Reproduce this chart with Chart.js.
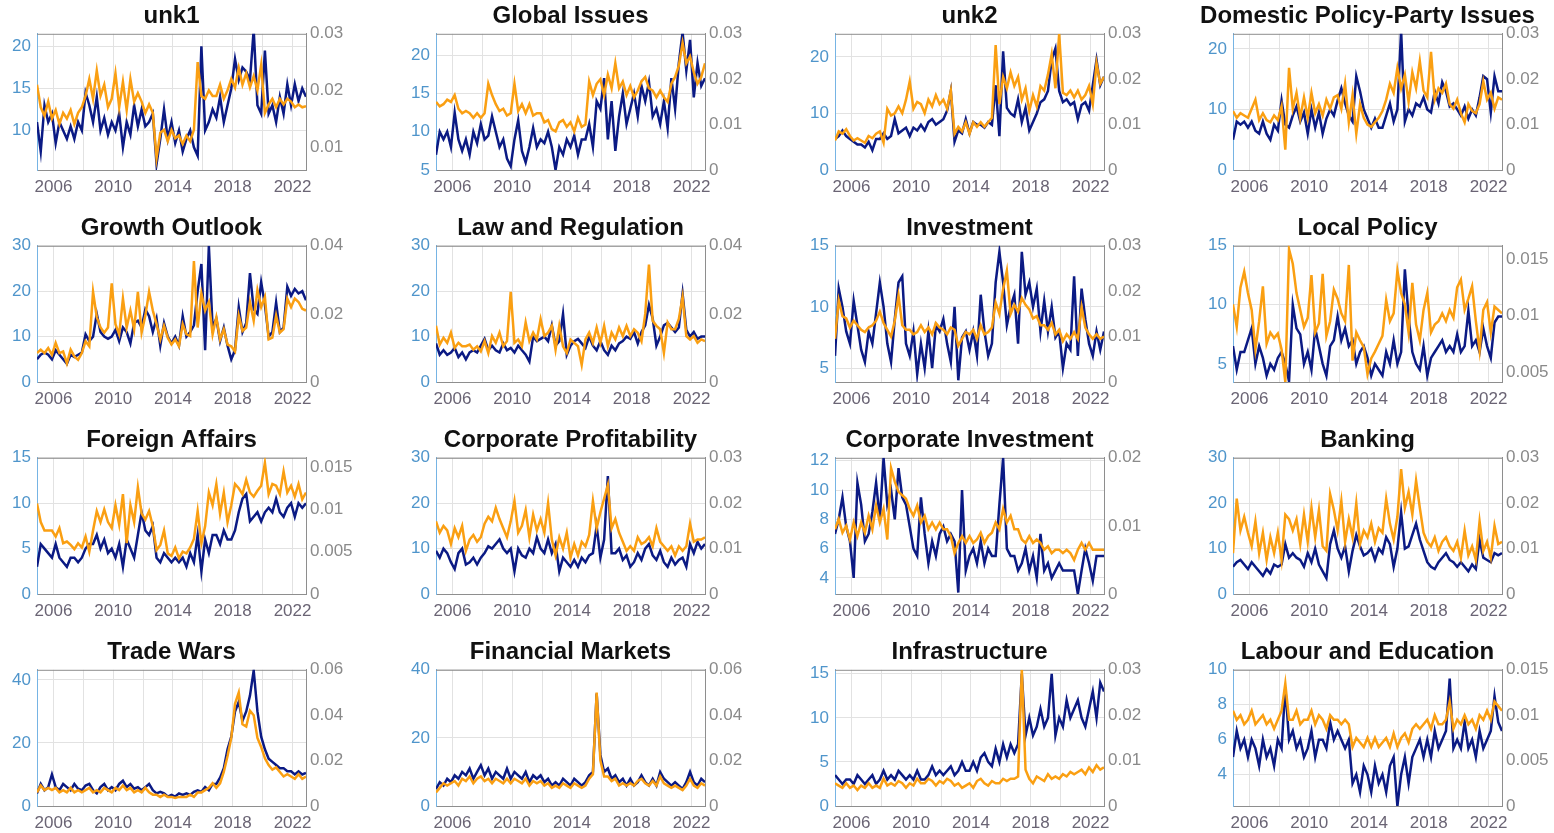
<!DOCTYPE html>
<html>
<head>
<meta charset="utf-8">
<script src="https://cdn.jsdelivr.net/npm/chart.js@4.4.0/dist/chart.umd.min.js"></script>
<style>
  body { margin: 0; background: #fff; width: 1554px; height: 833px; overflow: hidden; position: relative; }
  canvas { position: absolute; }
</style>
</head>
<body>
<script>
// Quarterly readings, 2005 to late 2022. "Left" = counts (left axis, navy), "Right" = shares (right axis, orange).
const titles = ['unk1', 'Global Issues', 'unk2', 'Domestic Policy-Party Issues',
  'Growth Outlook', 'Law and Regulation', 'Investment', 'Local Policy',
  'Foreign Affairs', 'Corporate Profitability', 'Corporate Investment', 'Banking',
  'Trade Wars', 'Financial Markets', 'Infrastructure', 'Labour and Education'];

const yearTicks = [2006, 2008, 2010, 2012, 2014, 2016, 2018, 2020, 2022];
const yearLabels = [2006, 2010, 2014, 2018, 2022];

const unk1Left = [
  11, 7.5, 13, 11, 12, 8.5, 11, 10, 9, 10.5, 9, 11, 10, 14.5, 13, 11, 14, 10, 11.5, 9.5, 11, 10, 12, 8,
  11, 9.5, 13, 10.5, 12.5, 10.5, 11, 12, 6, 9, 12.5, 9, 11, 8.5, 10, 7.5, 9, 10, 8, 7, 20, 10, 11, 12.5,
  11.5, 14, 11, 13, 15, 18.5, 16, 17.5, 17, 16, 22, 13, 12, 19.5, 12, 13, 11, 14, 12, 15.5, 13, 15.5, 13.5, 15, 14];
const unk1Right = [
  0.021, 0.017, 0.0155, 0.018, 0.015, 0.0165, 0.014, 0.016, 0.015, 0.0165, 0.014, 0.016, 0.017, 0.019, 0.022, 0.0185, 0.0235, 0.019, 0.021, 0.017, 0.0185, 0.023, 0.017, 0.0215,
  0.0165, 0.022, 0.018, 0.0195, 0.018, 0.016, 0.0175, 0.016, 0.008, 0.0125, 0.013, 0.011, 0.013, 0.0115, 0.012, 0.0105, 0.012, 0.011, 0.013, 0.025, 0.019, 0.0185, 0.02, 0.019,
  0.019, 0.021, 0.0185, 0.02, 0.022, 0.0205, 0.024, 0.021, 0.023, 0.0205, 0.0225, 0.02, 0.0245, 0.016, 0.0175, 0.0185, 0.017, 0.0185, 0.0175, 0.0185, 0.018, 0.017, 0.0175, 0.017, 0.0172];

const globalLeft = [
  7, 10, 9, 10, 8, 12.5, 9, 7.5, 9, 7, 10, 8.5, 11, 9, 9.5, 12, 10, 8, 9, 6.5, 5.5, 9, 11.5, 7.5,
  6, 8, 10.5, 8, 9, 8.5, 10, 8, 5, 8, 7, 9, 8, 9.5, 7, 9, 9, 11, 8, 14, 13, 17, 9, 14,
  7.5, 12, 15, 11, 13, 15, 12, 16, 14, 16.5, 12, 13, 11, 14, 10.5, 17, 13, 19, 23, 18, 22, 14.5, 19, 16, 17];
const globalRight = [
  0.015, 0.014, 0.0145, 0.0155, 0.015, 0.0165, 0.0135, 0.0125, 0.013, 0.0125, 0.0115, 0.0125, 0.0115, 0.0125, 0.019, 0.0165, 0.0145, 0.013, 0.0135, 0.012, 0.0125, 0.019, 0.013, 0.0145,
  0.0125, 0.0145, 0.012, 0.0125, 0.0125, 0.0105, 0.011, 0.009, 0.0085, 0.0105, 0.011, 0.0095, 0.0105, 0.0085, 0.0115, 0.0095, 0.01, 0.0195, 0.0165, 0.019, 0.02, 0.0165, 0.021, 0.018,
  0.0235, 0.018, 0.0195, 0.0165, 0.0185, 0.016, 0.0175, 0.0195, 0.0205, 0.018, 0.0175, 0.016, 0.0175, 0.016, 0.015, 0.019, 0.0205, 0.023, 0.028, 0.0235, 0.025, 0.0215, 0.019, 0.0205, 0.0235];

const unk2Left = [
  5.5, 6, 7, 6, 5.5, 5, 4.5, 4.5, 4, 5, 3.5, 5.5, 5.5, 6.5, 5.5, 6, 9, 6.5, 7, 7.5, 6, 7.5, 7, 8,
  7, 8.5, 9, 8, 8.5, 9, 10.5, 14, 5, 7, 6.5, 9, 6.5, 8.5, 8, 8, 7.5, 8.5, 8, 15, 6, 21, 11, 10,
  9.5, 12.5, 8.5, 11, 7, 8.5, 10, 12, 12.5, 14, 19.5, 21.5, 14, 12, 12.5, 11.5, 12, 9, 11.5, 12, 10.5, 15, 19.5, 15, 16.5];
const unk2Right = [
  0.0065, 0.0085, 0.008, 0.009, 0.0075, 0.0065, 0.007, 0.0065, 0.006, 0.0075, 0.007, 0.008, 0.0085, 0.006, 0.0135, 0.012, 0.0125, 0.014, 0.0125, 0.0155, 0.0195, 0.0135, 0.015, 0.0145,
  0.0125, 0.0155, 0.014, 0.0165, 0.0145, 0.0155, 0.0135, 0.0175, 0.008, 0.0095, 0.0085, 0.0105, 0.008, 0.0105, 0.0095, 0.0105, 0.0095, 0.0105, 0.0115, 0.0275, 0.0145, 0.0205, 0.018, 0.0215,
  0.0185, 0.0205, 0.0155, 0.018, 0.013, 0.0165, 0.014, 0.0185, 0.0175, 0.021, 0.0255, 0.018, 0.03, 0.017, 0.0165, 0.0175, 0.016, 0.0175, 0.0155, 0.0165, 0.0185, 0.0145, 0.0235, 0.019, 0.0205];

const domesticLeft = [
  5, 8, 7.5, 8, 7, 8, 6.5, 6, 8, 6, 5, 7.5, 6.5, 11.5, 7.5, 7, 9, 10.5, 8, 9.5, 6, 10, 7, 9.5,
  6, 8.5, 10, 9, 11.5, 13.5, 11, 9, 8, 15.5, 13, 10, 8.5, 7, 8.5, 7, 7, 9, 11, 8, 10, 23, 8, 10,
  9, 11, 10.5, 12, 10, 9.5, 13, 11, 14.5, 13, 10.5, 11, 10, 9, 10.5, 8.5, 10, 9, 12, 15.5, 15, 9.5, 15.5, 13, 13];
const domesticRight = [
  0.013, 0.0115, 0.0125, 0.012, 0.0115, 0.0135, 0.0155, 0.011, 0.0125, 0.011, 0.0105, 0.012, 0.011, 0.014, 0.0045, 0.0225, 0.0135, 0.017, 0.0115, 0.016, 0.0115, 0.017, 0.0125, 0.0145,
  0.012, 0.0155, 0.0135, 0.016, 0.0165, 0.0135, 0.019, 0.0105, 0.0165, 0.008, 0.0145, 0.0115, 0.01, 0.0095, 0.0105, 0.0115, 0.013, 0.0155, 0.019, 0.017, 0.0225, 0.018, 0.021, 0.015,
  0.0215, 0.018, 0.024, 0.0175, 0.016, 0.026, 0.0155, 0.018, 0.017, 0.019, 0.0145, 0.0135, 0.0155, 0.0125, 0.0105, 0.0145, 0.013, 0.0125, 0.0145, 0.0195, 0.0155, 0.017, 0.0135, 0.016, 0.0155];

const growthLeft = [
  5, 6, 6.5, 6, 5, 7, 6, 5, 4, 6, 5.5, 6, 6.5, 10.5, 9, 10, 15, 11, 10, 9.5, 10, 11.5, 9, 12,
  11, 8.5, 13, 13.5, 12, 16, 14.5, 11, 14, 8, 13, 10, 8.5, 10, 8, 14.5, 10, 11, 12.5, 20, 26, 7, 30, 12,
  14, 9, 12, 8, 5, 7, 16.5, 11, 13, 24, 16, 15, 22, 17, 10, 11, 17.5, 11, 12, 21, 19, 20.5, 19.5, 20, 18];
const growthRight = [
  0.0085, 0.0095, 0.0085, 0.01, 0.008, 0.0115, 0.0085, 0.009, 0.0055, 0.0095, 0.0075, 0.0065, 0.0085, 0.012, 0.0105, 0.0265, 0.019, 0.016, 0.0145, 0.016, 0.029, 0.017, 0.014, 0.0245,
  0.016, 0.021, 0.0155, 0.0265, 0.0145, 0.0195, 0.0265, 0.021, 0.017, 0.0125, 0.0165, 0.013, 0.011, 0.0125, 0.0105, 0.017, 0.014, 0.0135, 0.0355, 0.016, 0.026, 0.021, 0.0235, 0.014,
  0.019, 0.0125, 0.0155, 0.011, 0.0105, 0.009, 0.0195, 0.015, 0.016, 0.0235, 0.018, 0.027, 0.022, 0.025, 0.0125, 0.013, 0.0195, 0.0145, 0.0155, 0.0245, 0.022, 0.0245, 0.0235, 0.0215, 0.021];

const lawLeft = [
  8.5, 6, 7, 6, 6.5, 7.5, 5.5, 6.5, 5, 6.5, 7, 6.5, 8, 9.5, 7, 8, 7, 6.5, 8.5, 7, 7.5, 6.5, 8, 7,
  6, 4.5, 10, 9, 9.5, 10, 9, 12.5, 8, 9, 15, 6, 8, 9, 9.5, 8.5, 7.5, 10, 8, 7, 9, 7, 6, 8,
  7, 8.5, 9, 10, 9.5, 11, 8.5, 11, 12.5, 17, 14, 8, 10, 12.5, 13, 12, 11, 12, 19.5, 11.5, 10, 11, 9.5, 10, 10];
const lawRight = [
  0.0165, 0.011, 0.013, 0.0115, 0.0145, 0.01, 0.0115, 0.0105, 0.0105, 0.011, 0.0095, 0.0105, 0.009, 0.012, 0.0085, 0.0135, 0.0115, 0.0145, 0.0105, 0.012, 0.0265, 0.0115, 0.0125, 0.0105,
  0.0175, 0.012, 0.0145, 0.0125, 0.0185, 0.0135, 0.0145, 0.0165, 0.0095, 0.0165, 0.0105, 0.0085, 0.0125, 0.0115, 0.0105, 0.005, 0.0125, 0.0145, 0.0115, 0.016, 0.0115, 0.0165, 0.0105, 0.0145,
  0.0125, 0.016, 0.0135, 0.0165, 0.0135, 0.0155, 0.0145, 0.012, 0.02, 0.0345, 0.018, 0.0165, 0.0155, 0.0085, 0.0175, 0.0155, 0.0155, 0.0185, 0.025, 0.0135, 0.0125, 0.0135, 0.0115, 0.0125, 0.012];

const investLeft = [
  6, 11.5, 10, 8, 7, 10.5, 8.5, 6.5, 5.5, 8, 7, 9.5, 12, 10, 7, 5.5, 9, 12, 12.5, 7, 6, 8, 4.5, 7,
  5, 8, 5, 8.5, 8, 9, 7, 5.5, 10, 4, 7.5, 8, 6.5, 8, 6, 11, 8, 6, 7, 12, 14.5, 12, 8.5, 10,
  11, 7, 14.5, 11, 12, 10, 11.5, 8, 10.5, 8, 10, 7.5, 8, 5, 7, 6.5, 12.5, 6, 11.5, 9, 7, 6, 8, 6.5, 8];
const investRight = [
  0.0095, 0.018, 0.0145, 0.014, 0.012, 0.0135, 0.0125, 0.0115, 0.011, 0.012, 0.0125, 0.0135, 0.0155, 0.013, 0.0115, 0.01, 0.0135, 0.019, 0.0125, 0.0115, 0.0115, 0.0105, 0.011, 0.0125,
  0.011, 0.012, 0.0105, 0.013, 0.012, 0.0115, 0.0105, 0.012, 0.0115, 0.008, 0.0095, 0.011, 0.0105, 0.0115, 0.0095, 0.0125, 0.0105, 0.011, 0.012, 0.0175, 0.015, 0.0205, 0.0245, 0.015,
  0.017, 0.0155, 0.0185, 0.017, 0.016, 0.014, 0.0145, 0.0125, 0.0125, 0.0115, 0.013, 0.0105, 0.0115, 0.009, 0.0105, 0.0095, 0.011, 0.0095, 0.0165, 0.012, 0.0105, 0.0095, 0.0105, 0.0095, 0.01];

const localLeft = [
  6.5, 4.5, 6, 6, 7, 8, 5, 6.5, 5.5, 4, 5, 4.5, 5.5, 6, 5, 3.5, 10, 8, 7.5, 5, 6, 4.5, 8, 6.5,
  5, 4, 6.5, 7, 9, 7, 8, 6.5, 7, 5, 6, 6.5, 5.5, 4, 5, 4.5, 4, 6, 5, 7, 5, 6, 13, 9,
  6, 5, 4.5, 6.5, 4, 5.5, 6, 6.5, 7, 6, 6.5, 6, 7.5, 6, 6.5, 9.5, 6.5, 7, 6, 8, 6.5, 5.5, 8.5, 9, 9];
const localRight = [
  0.011, 0.009, 0.0125, 0.0139, 0.012, 0.0105, 0.007, 0.0095, 0.0126, 0.0075, 0.0085, 0.008, 0.0084, 0.007, 0.0041, 0.0159, 0.0146, 0.012, 0.0105, 0.009, 0.0098, 0.0136, 0.0085, 0.0093,
  0.0137, 0.0082, 0.0095, 0.0123, 0.0115, 0.0102, 0.0095, 0.0145, 0.006, 0.0085, 0.0078, 0.0072, 0.0048, 0.0062, 0.0068, 0.0075, 0.0082, 0.0114, 0.0095, 0.0102, 0.014, 0.012, 0.011, 0.0085,
  0.0129, 0.0092, 0.0078, 0.0105, 0.012, 0.0085, 0.0092, 0.0095, 0.0102, 0.0095, 0.0105, 0.0098, 0.0125, 0.0132, 0.0105, 0.0115, 0.0126, 0.0095, 0.0069, 0.0105, 0.0112, 0.0085, 0.0108, 0.0105, 0.0102];

const foreignLeft = [
  3, 5.5, 5, 4.5, 4, 5.5, 4, 3.5, 3, 4, 4, 3.5, 4, 5, 5.5, 5.5, 6.5, 5, 6, 4.5, 5, 4, 5.5, 3,
  6, 5, 4, 6.5, 9, 7, 6.5, 7.5, 4, 3.5, 4.5, 4, 3.5, 4, 3.5, 4, 3, 4.5, 3.5, 6.5, 2.5, 6, 4.5, 6.5,
  6.5, 5.5, 7, 6, 6, 7, 9, 10.5, 11, 8, 8.5, 9, 8, 9, 9.5, 9, 10.5, 9, 8.5, 9.5, 10, 8.5, 10, 9.5, 10];
const foreignRight = [
  0.0107, 0.0085, 0.0075, 0.0075, 0.0075, 0.0068, 0.0078, 0.006, 0.0062, 0.0058, 0.0053, 0.006, 0.0055, 0.0068, 0.005, 0.0075, 0.0098, 0.0085, 0.01, 0.0085, 0.0078, 0.0105, 0.0082, 0.0118,
  0.006, 0.0105, 0.0085, 0.0126, 0.0095, 0.0088, 0.0098, 0.008, 0.0052, 0.0058, 0.0075, 0.0048, 0.0045, 0.0055, 0.0042, 0.005, 0.0048, 0.0055, 0.0065, 0.0098, 0.006, 0.008, 0.012, 0.0105,
  0.013, 0.0095, 0.012, 0.0085, 0.0105, 0.013, 0.0125, 0.0118, 0.0135, 0.012, 0.0115, 0.0122, 0.0128, 0.0155, 0.0118, 0.013, 0.0128, 0.0118, 0.0145, 0.012, 0.0128, 0.0115, 0.013, 0.0112, 0.012];

const profitLeft = [
  9.5, 8, 10, 9, 7, 5.5, 9, 10, 6.5, 7, 8, 6.5, 8, 9, 10.5, 10, 11, 12, 10, 9, 10, 5, 10, 8.5,
  8, 10, 9, 12.5, 10, 9, 12, 9, 11, 5, 8, 7, 6, 7.5, 6, 8, 7, 8.5, 9, 15, 8, 12, 26, 9,
  9, 10, 7.5, 8.5, 6, 7, 9, 7.5, 10, 11, 8.5, 7.5, 9.5, 7, 6, 8, 6.5, 7.5, 8, 6, 11, 9, 11.5, 10, 11];
const profitRight = [
  0.016, 0.0135, 0.015, 0.014, 0.011, 0.0145, 0.0125, 0.015, 0.0095, 0.012, 0.013, 0.0115, 0.0125, 0.0155, 0.017, 0.016, 0.019, 0.0165, 0.0145, 0.0125, 0.016, 0.0205, 0.0135, 0.015,
  0.0185, 0.0125, 0.0175, 0.014, 0.0165, 0.0135, 0.02, 0.012, 0.0085, 0.0125, 0.01, 0.0135, 0.008, 0.011, 0.0085, 0.0115, 0.0105, 0.013, 0.0205, 0.0145, 0.018, 0.021, 0.024, 0.0145,
  0.0165, 0.0135, 0.0115, 0.0095, 0.0105, 0.0095, 0.0125, 0.011, 0.0115, 0.0125, 0.0105, 0.0145, 0.0115, 0.0105, 0.0095, 0.0105, 0.0085, 0.0105, 0.0095, 0.0105, 0.0155, 0.0115, 0.012, 0.012, 0.0125];

const corpInvLeft = [
  7, 8, 9.5, 7.5, 6.5, 4, 10.5, 9, 6.5, 7, 8.5, 10.5, 8, 12.2, 9, 10, 8, 11.5, 9.5, 9, 7.5, 6, 5.5, 9.5,
  7, 5, 6.5, 5.5, 7, 7.5, 6.5, 7, 6.5, 3, 10, 4.5, 5.5, 6, 5, 6.5, 5, 6, 5.5, 5.5, 9, 12.2, 6, 5.5,
  5.5, 4.5, 5, 6, 4.5, 5.5, 4, 7, 4.5, 5, 4, 4.5, 5, 4.5, 4.5, 4.5, 4.5, 2.9, 4.5, 6, 5, 3.8, 5.5, 5.5, 5.5];
const corpInvRight = [
  0.0095, 0.011, 0.009, 0.01, 0.008, 0.0105, 0.0085, 0.0105, 0.009, 0.0115, 0.0095, 0.013, 0.0105, 0.0125, 0.008, 0.0185, 0.0165, 0.015, 0.0145, 0.014, 0.0125, 0.0115, 0.013, 0.0105,
  0.0115, 0.0095, 0.0105, 0.0095, 0.0105, 0.0095, 0.0095, 0.0085, 0.006, 0.0075, 0.0085, 0.0075, 0.0085, 0.0075, 0.008, 0.009, 0.0075, 0.0085, 0.009, 0.0105, 0.0095, 0.0125, 0.0105, 0.0115,
  0.0095, 0.0095, 0.008, 0.0075, 0.0085, 0.0075, 0.008, 0.0075, 0.0065, 0.007, 0.006, 0.0065, 0.0065, 0.006, 0.0065, 0.006, 0.005, 0.0065, 0.0075, 0.0065, 0.0075, 0.0065, 0.0065, 0.0065, 0.0065];

const bankingLeft = [
  6, 7, 7.5, 6.5, 5.5, 7, 6, 5, 4, 5.5, 4.5, 6.5, 6, 6.5, 11, 8, 9, 8, 7.5, 6, 9, 7, 10, 6.5,
  5, 3.5, 11, 14, 10, 8, 10.5, 5, 9.5, 13, 10.5, 8.5, 9, 10, 7.5, 10, 9, 12.5, 11, 6, 10, 18, 10, 10.5,
  13, 15.5, 12, 9.5, 7, 6, 5.5, 7, 8, 9, 7.5, 7, 6, 7, 6, 5, 6.5, 5.5, 12, 8, 7.5, 7, 9, 8.5, 9];
const bankingRight = [
  0.009, 0.021, 0.014, 0.017, 0.0135, 0.0105, 0.016, 0.009, 0.0135, 0.0075, 0.0125, 0.009, 0.0135, 0.0075, 0.0175, 0.0165, 0.014, 0.0165, 0.011, 0.0175, 0.0115, 0.019, 0.0125, 0.0185,
  0.0105, 0.0095, 0.022, 0.0185, 0.014, 0.0205, 0.0115, 0.0165, 0.0125, 0.02, 0.011, 0.014, 0.0125, 0.0155, 0.0115, 0.0145, 0.0135, 0.021, 0.0155, 0.012, 0.017, 0.0275, 0.019, 0.0225,
  0.0175, 0.025, 0.019, 0.0135, 0.0115, 0.0105, 0.0125, 0.0095, 0.0115, 0.0125, 0.0105, 0.0095, 0.0115, 0.008, 0.014, 0.0085, 0.0105, 0.0075, 0.016, 0.0095, 0.0115, 0.008, 0.015, 0.011, 0.0115];

const tradeLeft = [
  4, 7, 5, 6, 10, 6, 5, 7, 6, 5, 7, 5.5, 5, 6.5, 7, 5, 4, 6, 7, 5, 6, 5, 7, 8,
  6, 7, 5.5, 6, 5, 6, 7, 5, 4, 4.5, 4, 3, 3.5, 3, 4, 3.5, 4, 3.5, 4.5, 5, 4.5, 6, 5, 7,
  7, 9, 12, 18, 22, 30, 33, 27, 30, 35, 43, 30, 22, 18, 15, 14, 13, 12, 12, 11, 11, 10, 11, 10, 10.5];
const tradeRight = [
  0.006, 0.009, 0.007, 0.008, 0.007, 0.008, 0.006, 0.007, 0.006, 0.008, 0.006, 0.007, 0.006, 0.007, 0.008, 0.006, 0.007, 0.006, 0.008, 0.007, 0.006, 0.008, 0.007, 0.009,
  0.007, 0.008, 0.006, 0.007, 0.006, 0.008, 0.006, 0.005, 0.005, 0.004, 0.005, 0.004, 0.004, 0.0035, 0.004, 0.004, 0.004, 0.005, 0.004, 0.006, 0.006, 0.007, 0.008, 0.01,
  0.008, 0.01, 0.015, 0.022, 0.03, 0.045, 0.05, 0.036, 0.035, 0.042, 0.04, 0.03, 0.026, 0.021, 0.018, 0.016, 0.017, 0.015, 0.013, 0.014, 0.013, 0.012, 0.014, 0.012, 0.013];

const marketsLeft = [
  5, 7, 6, 8, 7, 9, 8, 10, 9, 11, 8, 10, 12, 9, 11, 8, 10, 9, 8, 11, 8, 10, 9, 8,
  10, 7, 9, 8, 9, 7, 8, 6, 7, 6, 8, 7, 6, 8, 7, 6, 7, 9, 10, 33, 15, 10, 11, 8,
  9, 7, 8, 6, 8, 6, 7, 9, 7, 6, 8, 6, 10, 8, 7, 6, 7, 6, 5, 7, 10, 7, 6, 8, 7];
const marketsRight = [
  0.006, 0.008, 0.01, 0.009, 0.01, 0.011, 0.009, 0.012, 0.011, 0.013, 0.01, 0.012, 0.013, 0.011, 0.012, 0.01, 0.012, 0.011, 0.01, 0.012, 0.01, 0.012, 0.011, 0.01,
  0.012, 0.009, 0.011, 0.01, 0.011, 0.009, 0.01, 0.008, 0.009, 0.008, 0.01, 0.009, 0.008, 0.01, 0.009, 0.008, 0.009, 0.012, 0.014, 0.05, 0.02, 0.013, 0.013, 0.011,
  0.012, 0.009, 0.01, 0.009, 0.01, 0.009, 0.011, 0.012, 0.01, 0.009, 0.011, 0.009, 0.013, 0.01, 0.009, 0.008, 0.009, 0.008, 0.007, 0.009, 0.012, 0.009, 0.008, 0.01, 0.009];

const infraLeft = [
  3.5, 3, 2.5, 3, 3, 2.5, 3.5, 3, 2.5, 3, 3.5, 2.5, 3, 4, 3, 3.5, 3, 4, 3.5, 3, 3.5, 3, 4, 3,
  3, 3.5, 4.5, 3.5, 4, 3.5, 4, 4.5, 3.5, 4, 5, 4, 4, 5, 4, 5.5, 6, 5, 4.5, 6.5, 5, 7, 5.5, 7,
  6, 7, 15, 8, 10, 8, 9, 11, 9, 10, 15, 8, 10, 9, 12, 10, 11, 12, 10, 9, 11, 13, 10, 14, 13];
const infraRight = [
  0.005, 0.0045, 0.004, 0.005, 0.004, 0.0045, 0.0035, 0.0045, 0.004, 0.005, 0.004, 0.0045, 0.004, 0.006, 0.0045, 0.005, 0.0045, 0.0055, 0.005, 0.004, 0.005, 0.0045, 0.006, 0.005,
  0.005, 0.006, 0.0055, 0.0045, 0.0055, 0.005, 0.006, 0.0055, 0.0045, 0.005, 0.004, 0.0045, 0.005, 0.004, 0.0055, 0.006, 0.005, 0.0045, 0.0055, 0.005, 0.005, 0.006, 0.0055, 0.006,
  0.006, 0.0065, 0.03, 0.008, 0.006, 0.005, 0.0065, 0.006, 0.0055, 0.007, 0.006, 0.0065, 0.006, 0.007, 0.0065, 0.0075, 0.007, 0.0075, 0.008, 0.007, 0.0085, 0.0075, 0.009, 0.008, 0.0085];

const labourLeft = [
  5, 6.5, 5.5, 6, 5, 6, 5.5, 4.5, 6, 5, 5.5, 4.5, 6, 5.5, 9, 6, 6.5, 5.5, 6, 5, 5.5, 6.5, 5, 6,
  6, 5.5, 7, 6, 6.5, 6, 5.5, 6, 3.5, 4, 3, 4.5, 4, 3, 4.5, 3.5, 4, 3, 4.5, 5, 2.2, 4, 5, 3.5,
  5, 5.5, 6, 5, 6, 5, 6.5, 5.5, 6, 6.5, 9.5, 5.5, 6, 5.5, 7, 5.5, 6, 5, 6.5, 5.5, 6, 6.5, 8.5, 7, 6.5];
const labourRight = [
  0.0105, 0.0095, 0.01, 0.009, 0.0095, 0.0105, 0.009, 0.0095, 0.01, 0.009, 0.0095, 0.0085, 0.0095, 0.0105, 0.0135, 0.0095, 0.0095, 0.0105, 0.009, 0.0095, 0.0095, 0.0105, 0.009, 0.01,
  0.0095, 0.0085, 0.01, 0.0095, 0.0095, 0.009, 0.0095, 0.009, 0.0065, 0.0075, 0.007, 0.0065, 0.0075, 0.0065, 0.0075, 0.0065, 0.007, 0.0075, 0.0065, 0.008, 0.0065, 0.0075, 0.008, 0.007,
  0.0085, 0.009, 0.0085, 0.009, 0.0095, 0.0085, 0.01, 0.009, 0.009, 0.0095, 0.0115, 0.0085, 0.0095, 0.009, 0.01, 0.009, 0.0095, 0.0085, 0.01, 0.0095, 0.0105, 0.0095, 0.0115, 0.011, 0.0105];

const leftSeries = [unk1Left, globalLeft, unk2Left, domesticLeft, growthLeft, lawLeft, investLeft, localLeft,
  foreignLeft, profitLeft, corpInvLeft, bankingLeft, tradeLeft, marketsLeft, infraLeft, labourLeft];
const rightSeries = [unk1Right, globalRight, unk2Right, domesticRight, growthRight, lawRight, investRight, localRight,
  foreignRight, profitRight, corpInvRight, bankingRight, tradeRight, marketsRight, infraRight, labourRight];

const leftLimits = [[5.3, 21.5], [5, 22.8], [0, 24.1], [0, 22.5], [0, 30], [0, 30], [3.86, 15], [3.46, 15],
  [0, 15], [0, 30], [2.9, 12.2], [0, 30], [0, 43.2], [0, 40], [0, 15.45], [2.2, 10]];
const rightLimits = [[0.0059, 0.03], [0, 0.03], [0, 0.03], [0, 0.03], [0, 0.04], [0, 0.04], [0, 0.03], [0.0041, 0.0162],
  [0, 0.0161], [0, 0.03], [0, 0.02], [0, 0.03], [0, 0.06], [0, 0.06], [0, 0.03], [0, 0.015]];
const leftTicks = [[10, 15, 20], [5, 10, 15, 20], [0, 10, 20], [0, 10, 20], [0, 10, 20, 30], [0, 10, 20, 30], [5, 10, 15], [5, 10, 15],
  [0, 5, 10, 15], [0, 10, 20, 30], [4, 6, 8, 10, 12], [0, 10, 20, 30], [0, 20, 40], [0, 20, 40], [0, 5, 10, 15], [4, 6, 8, 10]];
const rightTicks = [[0.01, 0.02, 0.03], [0, 0.01, 0.02, 0.03], [0, 0.01, 0.02, 0.03], [0, 0.01, 0.02, 0.03],
  [0, 0.02, 0.04], [0, 0.02, 0.04], [0, 0.01, 0.02, 0.03], [0.005, 0.01, 0.015],
  [0, 0.005, 0.01, 0.015], [0, 0.01, 0.02, 0.03], [0, 0.01, 0.02], [0, 0.01, 0.02, 0.03],
  [0, 0.02, 0.04, 0.06], [0, 0.02, 0.04, 0.06], [0, 0.01, 0.02, 0.03], [0, 0.005, 0.01, 0.015]];

// quarterly time axis
const startYear = 2004.9;
const quarters = unk1Left.map((_, i) => startYear + i * 0.25);

// grid placement
const colLeft = [37, 436, 835, 1233];
const rowTop = [34, 246, 458, 670];
const plotW = 269, plotH = 136;
const sideW = 52, titleH = 34, axisH = 28;
const FONT = '"Liberation Sans", Arial, sans-serif';
const GRID = '#e2e2e2';

// closes the box along the top edge of the plot
const topEdge = {
  id: 'topEdge',
  beforeDatasetsDraw(chart) {
    const { ctx, chartArea: a } = chart;
    ctx.save();
    ctx.strokeStyle = '#8e8e8e';
    ctx.lineWidth = 1;
    ctx.beginPath();
    ctx.moveTo(a.left, a.top + 0.5);
    ctx.lineTo(a.right, a.top + 0.5);
    ctx.stroke();
    ctx.restore();
  }
};

const toPoints = vals => vals.map((y, i) => ({ x: quarters[i], y }));

titles.forEach((title, k) => {
  const canvas = document.createElement('canvas');
  canvas.width = plotW + 2 * sideW;
  canvas.height = titleH + plotH + axisH;
  canvas.style.left = (colLeft[k % 4] - sideW) + 'px';
  canvas.style.top = (rowTop[Math.floor(k / 4)] - titleH) + 'px';
  document.body.appendChild(canvas);

  new Chart(canvas, {
    type: 'line',
    data: {
      datasets: [
        {
          data: toPoints(rightSeries[k]),
          yAxisID: 'yR',
          borderColor: '#fa9f12',
          borderWidth: 2.5,
          pointRadius: 0,
          order: 1
        },
        {
          data: toPoints(leftSeries[k]),
          yAxisID: 'yL',
          borderColor: '#0b1a84',
          borderWidth: 2.5,
          pointRadius: 0,
          order: 2
        }
      ]
    },
    options: {
      responsive: false,
      animation: false,
      events: [],
      plugins: {
        legend: { display: false },
        tooltip: { enabled: false },
        title: {
          display: true,
          text: title,
          color: '#111',
          font: { family: FONT, size: 24, weight: 'bold' },
          padding: { top: 2, bottom: 3 }
        }
      },
      scales: {
        x: {
          type: 'linear',
          min: 2004.9,
          max: 2022.9,
          afterBuildTicks: s => { s.ticks = yearTicks.map(v => ({ value: v })); },
          afterFit: s => { s.height = axisH; },
          ticks: {
            autoSkip: false,
            maxRotation: 0,
            padding: 7,
            color: '#6a6474',
            font: { family: FONT, size: 17 },
            callback: v => yearLabels.includes(v) ? String(v) : ''
          },
          grid: { color: GRID, drawTicks: false },
          border: { color: '#8e8e8e' }
        },
        yL: {
          position: 'left',
          min: leftLimits[k][0],
          max: leftLimits[k][1],
          afterBuildTicks: s => { s.ticks = leftTicks[k].map(v => ({ value: v })); },
          afterFit: s => { s.width = sideW; },
          ticks: { color: '#4f95cb', padding: 6, font: { family: FONT, size: 17 } },
          grid: { color: GRID, drawTicks: false },
          border: { color: '#76b4e4' }
        },
        yR: {
          position: 'right',
          min: rightLimits[k][0],
          max: rightLimits[k][1],
          afterBuildTicks: s => { s.ticks = rightTicks[k].map(v => ({ value: v })); },
          afterFit: s => { s.width = sideW; },
          ticks: {
            color: '#8a8a8a',
            padding: 4,
            font: { family: FONT, size: 17 },
            callback: v => String(v)
          },
          grid: { drawOnChartArea: false, drawTicks: false },
          border: { color: '#8e8e8e' }
        }
      }
    },
    plugins: [topEdge]
  });
});
</script>
</body>
</html>
